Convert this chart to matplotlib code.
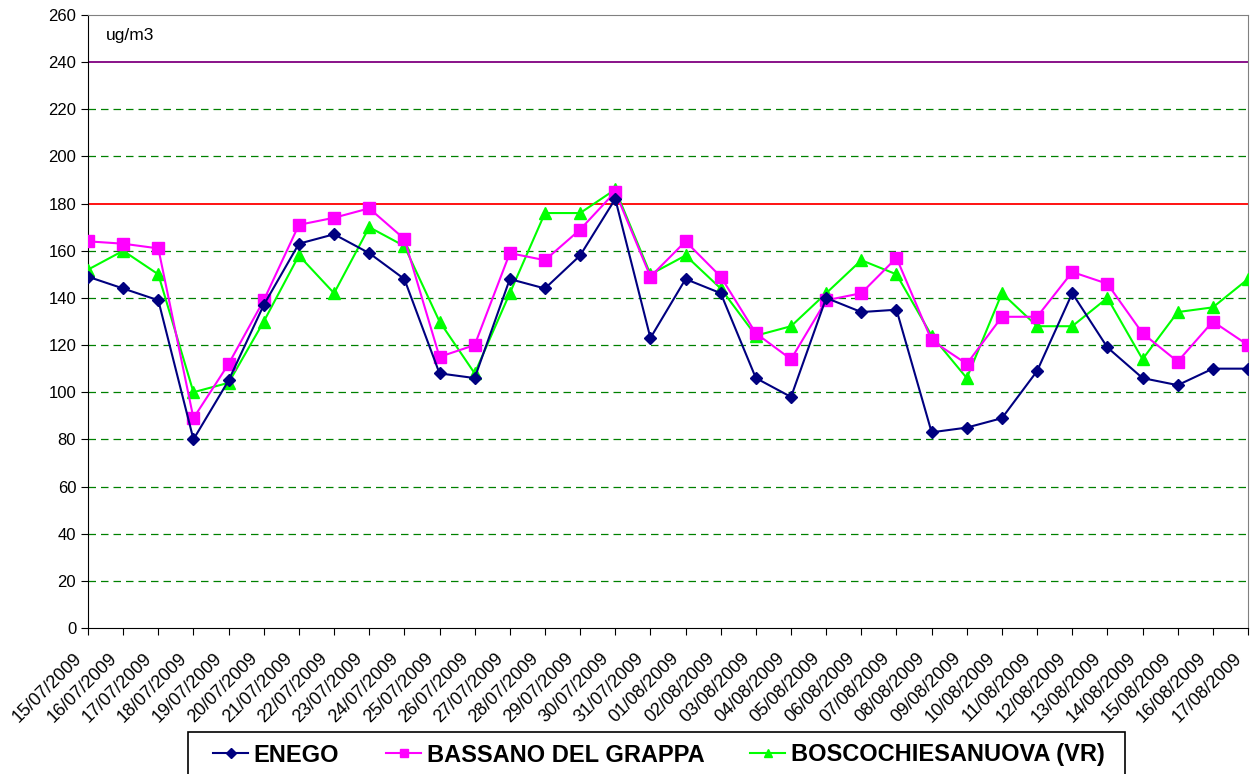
import matplotlib
matplotlib.use("Agg")
import matplotlib.pyplot as plt
from matplotlib.patches import Rectangle
import numpy as np

dates = ["15/07/2009","16/07/2009","17/07/2009","18/07/2009","19/07/2009","20/07/2009",
         "21/07/2009","22/07/2009","23/07/2009","24/07/2009","25/07/2009","26/07/2009",
         "27/07/2009","28/07/2009","29/07/2009","30/07/2009","31/07/2009","01/08/2009",
         "02/08/2009","03/08/2009","04/08/2009","05/08/2009","06/08/2009","07/08/2009",
         "08/08/2009","09/08/2009","10/08/2009","11/08/2009","12/08/2009","13/08/2009",
         "14/08/2009","15/08/2009","16/08/2009","17/08/2009"]
enego = [149,144,139,80,105,137,163,167,159,148,108,106,148,144,158,182,123,148,142,106,98,140,134,135,83,85,89,109,142,119,106,103,110,110]
bassano = [164,163,161,89,112,139,171,174,178,165,115,120,159,156,169,185,149,164,149,125,114,139,142,157,122,112,132,132,151,146,125,113,130,120]
bosco = [152,160,150,100,104,130,158,142,170,162,130,108,142,176,176,186,150,158,144,124,128,142,156,150,124,106,142,128,128,140,114,134,136,148]
series_names = ["ENEGO", "BASSANO DEL GRAPPA", "BOSCOCHIESANUOVA (VR)"]
threshold_red = 180
threshold_purple = 240
yticks = list(range(0, 261, 20))

plt.rcParams['font.family'] = ['Liberation Sans', 'DejaVu Sans']

W, H = 1251, 774
fig = plt.figure(figsize=(W/100, H/100), dpi=100)
ax = fig.add_axes([88/W, 1-628/H, (1248-88)/W, (628-15)/H])

x = np.arange(len(dates))
for yv in yticks[1:-1]:
    if yv in (threshold_red, threshold_purple):
        continue
    ax.axhline(yv, color='#008000', lw=0.9, ls=(0, (6, 4)), zorder=1)
ax.axhline(threshold_red, color='#ff0000', lw=1.3, zorder=2)
ax.axhline(threshold_purple, color='#800080', lw=1.3, zorder=2)

l1, = ax.plot(x, enego, color='#000080', marker='D', ms=6.5, lw=1.5, zorder=5)
l2, = ax.plot(x, bassano, color='#ff00ff', marker='s', ms=8, lw=1.5, zorder=4)
l3, = ax.plot(x, bosco, color='#00ff00', marker='^', ms=8, lw=1.5, zorder=3)

ax.set_xlim(0, len(dates)-1)
ax.set_ylim(0, 260)
ax.set_yticks(yticks)
ax.set_xticks(x)
ax.set_xticklabels([])
for xi, d in zip(x, dates):
    ax.annotate(d, xy=(xi, 0), xycoords=('data', 'axes fraction'),
                xytext=(-15, -22), textcoords='offset pixels',
                rotation=45, ha='right', va='top', rotation_mode='anchor',
                fontsize=13, annotation_clip=False)
ax.tick_params(axis='y', labelsize=12, direction='out', length=5)
ax.tick_params(axis='x', direction='out', length=5)
for s in ('top', 'right'):
    ax.spines[s].set_color('#808080')
for s in ('left', 'bottom'):
    ax.spines[s].set_color('black')

ax.text(0.5, 251.5, 'ug/m3', fontsize=12.5, va='center', ha='left')

# legend frame
fig.patches.append(Rectangle((188/W, -0.01), (1125-188)/W, (776-732)/H + 0.01 - 2/H,
                             transform=fig.transFigure, fill=False, edgecolor='black', lw=1.2))
handles = [l1, l2, l3]
xs = [213, 386, 750]
for h, name, xp in zip(handles, series_names, xs):
    fig.legend([h], [name], loc='center left', bbox_to_anchor=(xp/W, 1-755/H),
               frameon=False, prop={'weight': 'bold', 'size': 17},
               handlelength=1.5, handletextpad=0.22, borderpad=0, borderaxespad=0,
               markerscale=0.8)

fig.savefig('out.png', dpi=100)
